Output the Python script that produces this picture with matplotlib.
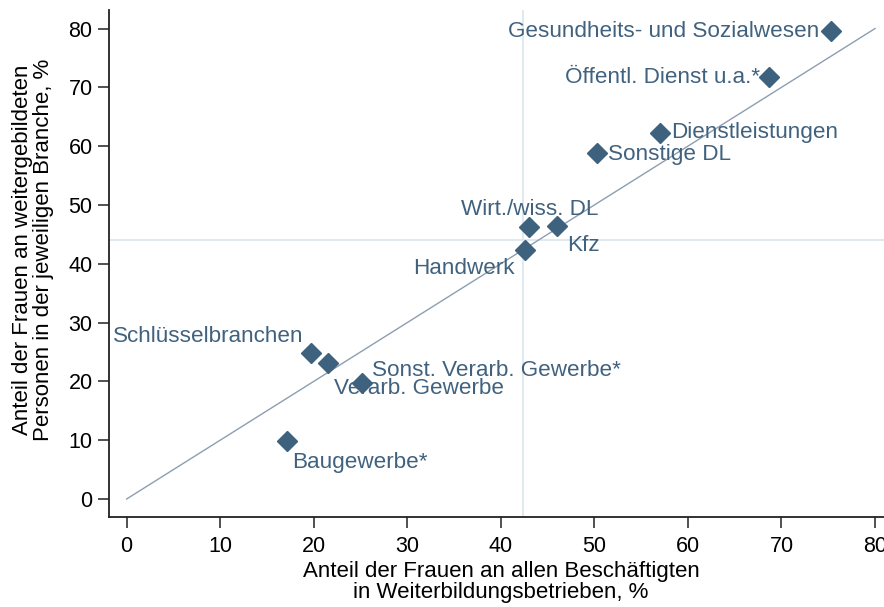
import matplotlib
matplotlib.use("Agg")
import matplotlib.pyplot as plt

# Branchen: Anteil Frauen an allen Beschaeftigten (x) vs. an Weitergebildeten (y)
branchen = ["Gesundheits- und Sozialwesen", "Öffentl. Dienst u.a.*",
            "Dienstleistungen", "Sonstige DL", "Wirt./wiss. DL", "Kfz",
            "Handwerk", "Schlüsselbranchen", "Verarb. Gewerbe",
            "Sonst. Verarb. Gewerbe*", "Baugewerbe*"]
anteil_beschaeftigte = [75.3, 68.7, 57.0, 50.3, 43.0, 46.0, 42.6, 19.7, 21.5, 25.2, 17.1]
anteil_weitergebildet = [79.5, 71.7, 62.3, 58.8, 46.2, 46.4, 42.4, 24.8, 23.2, 19.7, 9.8]

# Referenzlinien (Durchschnitt)
mittel_x = 42.4
mittel_y = 44.0

ticks = [0, 10, 20, 30, 40, 50, 60, 70, 80]

# Label placement in pixels relative to the marker (dx, dy, ha)
label_pos = {
    "Gesundheits- und Sozialwesen": (-12, 0, "right"),
    "Öffentl. Dienst u.a.*": (-9, 0, "right"),
    "Dienstleistungen": (11, 0, "left"),
    "Sonstige DL": (11, -1, "left"),
    "Wirt./wiss. DL": (1, 18, "center"),
    "Kfz": (10, -19, "left"),
    "Handwerk": (-11, -19, "right"),
    "Schlüsselbranchen": (-7, 17, "right"),
    "Verarb. Gewerbe": (6, -26, "left"),
    "Sonst. Verarb. Gewerbe*": (10, 13, "left"),
    "Baugewerbe*": (6, -21, "left"),
}

plt.rcParams['font.family'] = ['Liberation Sans', 'DejaVu Sans']

marker_col = "#3e617e"
text_col = "#40627f"

fig = plt.figure(figsize=(8.84, 6.07), dpi=100)
ax = fig.add_axes([0.1236, 0.1488, 0.8764, 0.8347])

ax.axvline(mittel_x, color="#dbe7ef", lw=1.3, zorder=1)
ax.axhline(mittel_y, color="#dbe7ef", lw=1.3, zorder=1)
ax.plot([0, 80], [0, 80], color="#8d9eb2", lw=1.0, zorder=2)

ax.plot(anteil_beschaeftigte, anteil_weitergebildet, linestyle="none",
        marker="D", markersize=10.5, color=marker_col, zorder=3)

for name, xv, yv in zip(branchen, anteil_beschaeftigte, anteil_weitergebildet):
    dx, dy, ha = label_pos[name]
    ax.annotate(name, (xv, yv), xytext=(dx, dy), textcoords="offset pixels",
                ha=ha, va="center", fontsize=16.2, color=text_col, zorder=4)

ax.set_xlim(-1.86, 80.96)
ax.set_ylim(-3.01, 83.15)
ax.set_xticks(ticks)
ax.set_yticks(ticks)
ax.tick_params(direction="out", length=8, width=1.2, labelsize=15.5,
               color="#333333")
ax.tick_params(axis="x", pad=6)
ax.tick_params(axis="y", pad=4)

for side in ["top", "right"]:
    ax.spines[side].set_visible(False)
for side in ["left", "bottom"]:
    ax.spines[side].set_linewidth(1.3)
    ax.spines[side].set_color("#222222")

fig.text(33 / 884, 1 - 250 / 607,
         "Anteil der Frauen an weitergebildeten\nPersonen in der jeweiligen Branche, %",
         rotation=90, ha="center", va="center", fontsize=16,
         multialignment="center", linespacing=1.0)
fig.text(501 / 884, 1 - 582 / 607,
         "Anteil der Frauen an allen Beschäftigten\nin Weiterbildungsbetrieben, %",
         ha="center", va="center", fontsize=16, multialignment="center",
         linespacing=1.0)

fig.savefig("out.png", dpi=100)
